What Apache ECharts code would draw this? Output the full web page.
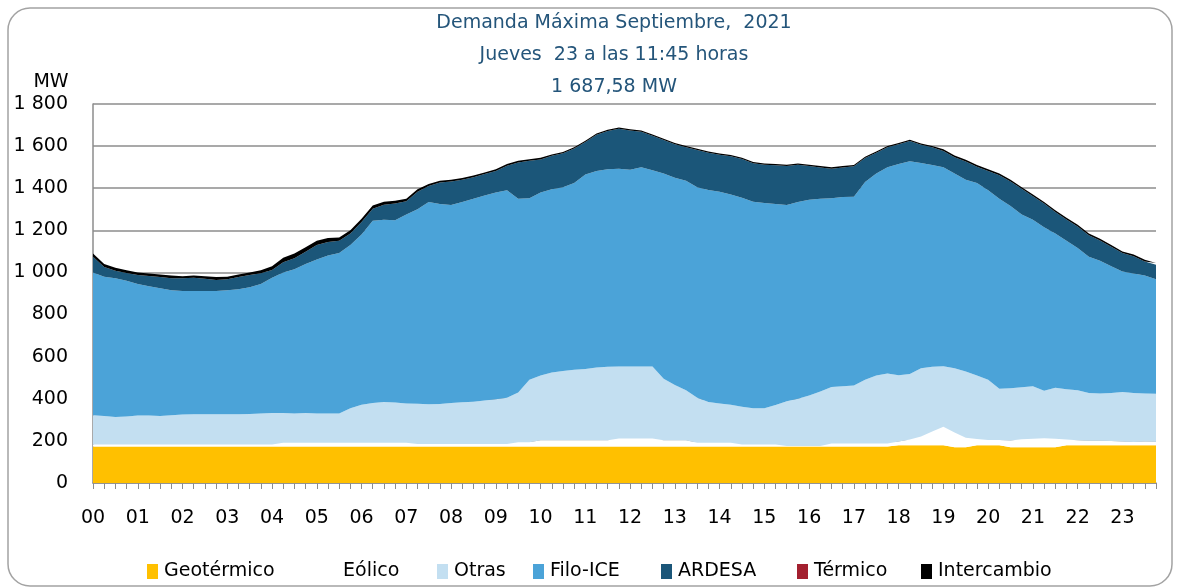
<!DOCTYPE html>
<html>
<head>
<meta charset="utf-8">
<script src="https://cdn.jsdelivr.net/npm/echarts@6/dist/echarts.min.js"></script>
<style>
  html, body { margin: 0; padding: 0; background: #fff; }
  #chart { width: 1179px; height: 588px; }
</style>
</head>
<body>
<div id="chart"></div>
<script>
// horas del eje (cada hora tiene 4 cuartos)
const hours = ['00','01','02','03','04','05','06','07','08','09','10','11','12','13','14','15','16','17','18','19','20','21','22','23'];
const quarters = ['00','15','30','45'];

// MW por cada 15 minutos
const geotermico = [
  173,173,173,173,173,173,173,173,173,173,173,173,173,173,173,173,173,173,173,173,173,173,173,173,
  173,173,173,173,173,173,173,173,173,173,173,173,173,173,173,173,173,173,173,173,173,173,173,173,
  173,173,173,173,173,173,173,173,173,173,173,173,173,173,173,173,173,173,173,173,173,173,173,173,
  179,179,179,179,179,170,170,179,179,179,170,170,170,170,170,179,179,179,179,179,179,179,179,179
];
const eolico = [
  10,10,10,10,10,10,10,10,10,10,10,10,10,10,10,10,10,18,18,18,18,18,18,18,
  18,18,18,18,18,12,12,12,12,12,12,12,12,12,20,20,30,30,30,30,30,30,30,38,
  38,38,38,30,30,30,18,18,18,18,10,10,10,10,3,3,3,3,15,15,15,15,15,15,
  18,28,42,65,88,70,45,30,25,25,32,38,40,42,40,28,24,22,22,20,18,16,18,17
];
const otras = [
  139,135,131,133,137,137,135,139,142,144,144,144,144,144,145,147,150,141,139,142,139,139,139,164,
  181,189,194,191,187,191,189,190,195,198,201,207,213,220,237,297,307,322,329,335,339,345,349,342,
  342,342,342,292,262,237,214,194,187,181,179,172,172,187,212,224,239,259,268,272,275,302,322,332,
  315,311,324,308,288,305,315,301,286,244,248,247,250,226,242,238,237,227,224,229,235,233,228,228
];
const filoIce = [
  678,662,658,644,625,615,607,593,587,585,585,585,588,593,602,615,642,668,685,707,732,750,762,775,
  808,865,865,866,897,924,961,950,940,952,964,973,982,985,920,862,870,870,873,887,923,934,938,940,
  935,947,932,975,985,995,1000,1007,1005,998,993,981,975,955,932,935,930,915,896,898,897,940,960,980,
  1003,1010,975,958,945,925,910,915,900,902,865,820,790,777,733,705,676,647,630,602,573,567,560,544
];
const ardesa = [
  75,46,36,37,43,48,53,58,60,63,58,52,53,58,58,51,37,48,53,58,68,65,58,55,
  60,58,72,80,63,83,75,102,112,105,102,102,102,117,172,178,157,159,161,164,154,172,182,189,
  186,168,164,159,159,159,177,177,176,182,184,183,182,184,186,176,161,149,140,141,144,114,99,94,
  94,96,86,84,77,77,87,77,92,112,117,122,112,112,102,102,102,102,97,92,87,82,67,69
];
const termico = [
  0,0,0,0,0,0,0,0,0,0,0,0,0,0,0,0,0,0,0,0,0,0,0,0,
  0,0,0,0,0,0,0,0,0,0,0,0,0,0,0,0,0,0,0,0,0,0,0,0,
  0,0,0,0,0,0,0,0,0,0,0,0,0,0,0,0,0,0,0,0,0,0,0,0,
  0,0,0,0,0,0,0,0,0,0,0,0,0,0,0,0,0,0,0,0,0,0,0,0
];
const intercambio = [
  15,14,14,13,12,12,12,12,10,10,12,14,12,12,12,14,18,22,22,22,20,18,16,15,
  15,15,14,12,12,12,10,8,8,8,8,8,8,8,8,8,8,6,6,6,6,6,6,6,
  6,6,6,6,6,6,6,6,6,6,6,6,6,6,6,6,6,6,8,6,6,6,6,6,
  6,6,6,6,8,8,8,8,8,8,8,8,8,8,8,8,8,8,8,8,8,8,8,8
];

const yTicks = [0, 200, 400, 600, 800, 1000, 1200, 1400, 1600, 1800];

const categories = [];
hours.forEach(h => quarters.forEach(q => categories.push(h + ':' + q)));

const seriesDef = [
  { name: 'Geotérmico', color: '#ffc000', data: geotermico, legendX: 147 },
  { name: 'Eólico', color: '#ffffff', data: eolico, legendX: 326 },
  { name: 'Otras', color: '#c3dff1', data: otras, legendX: 437 },
  { name: 'Filo-ICE', color: '#4ba3d8', data: filoIce, legendX: 533 },
  { name: 'ARDESA', color: '#1b5679', data: ardesa, legendX: 661 },
  { name: 'Térmico', color: '#a3202f', data: termico, legendX: 797 },
  { name: 'Intercambio', color: '#000000', data: intercambio, legendX: 921 }
];

const axisGray = '#8c8c8c';
const numFont = 'DejaVu Sans';

function fmtMW(v) {
  if (v >= 1000) {
    let rest = String(v % 1000);
    while (rest.length < 3) rest = '0' + rest;
    return Math.floor(v / 1000) + ' ' + rest;
  }
  return String(v);
}

const chart = echarts.init(document.getElementById('chart'));
chart.setOption({
  animation: false,
  backgroundColor: '#ffffff',
  graphic: [
    {
      type: 'rect', silent: true, z: -10,
      shape: { x: 8, y: 8, width: 1164, height: 578, r: 22 },
      style: { fill: null, stroke: '#a3a3a3', lineWidth: 1.5 }
    },
    {
      type: 'text', x: 614, y: 23,
      style: { text: 'Demanda Máxima Septiembre,  2021', fill: '#24557a', font: '19px "DejaVu Sans"', textAlign: 'center', textVerticalAlign: 'middle' }
    },
    {
      type: 'text', x: 614, y: 55,
      style: { text: 'Jueves  23 a las 11:45 horas', fill: '#24557a', font: '19px "DejaVu Sans"', textAlign: 'center', textVerticalAlign: 'middle' }
    },
    {
      type: 'text', x: 614, y: 87,
      style: { text: '1 687,58 MW', fill: '#24557a', font: '19px "DejaVu Sans"', textAlign: 'center', textVerticalAlign: 'middle' }
    },
    {
      type: 'text', x: 51, y: 82,
      style: { text: 'MW', fill: '#000', font: '19px "DejaVu Sans"', textAlign: 'center', textVerticalAlign: 'middle' }
    }
  ],
  legend: seriesDef.map(s => ({
    data: [s.name],
    left: s.legendX,
    top: 562,
    padding: 0,
    icon: 'rect',
    itemWidth: 11,
    itemHeight: 15,
    itemGap: 0,
    selectedMode: false,
    textStyle: { color: '#000', fontSize: 19, fontFamily: numFont, padding: [0, 0, 0, 1] }
  })),
  grid: { left: 93, right: 23, top: 104, bottom: 105 },
  xAxis: {
    type: 'category',
    boundaryGap: false,
    data: categories,
    axisLine: { show: true, lineStyle: { color: axisGray, width: 1.5 } },
    axisTick: { show: true, interval: 0, length: 6, lineStyle: { color: axisGray } },
    axisLabel: {
      interval: 3,
      margin: 26,
      color: '#000',
      fontSize: 19,
      fontFamily: numFont,
      formatter: v => v.slice(0, 2)
    },
    splitLine: { show: false }
  },
  yAxis: {
    type: 'value',
    min: yTicks[0],
    max: yTicks[yTicks.length - 1],
    interval: 200,
    axisLine: { show: true, lineStyle: { color: axisGray, width: 1.5 } },
    axisTick: { show: false },
    axisLabel: { color: '#000', fontSize: 19, fontFamily: numFont, margin: 25, formatter: fmtMW },
    splitLine: { lineStyle: { color: axisGray, width: 1.5 } }
  },
  series: seriesDef.map(s => ({
    name: s.name,
    type: 'line',
    stack: 'total',
    data: s.data,
    symbol: 'none',
    showSymbol: false,
    lineStyle: { width: 0 },
    itemStyle: { color: s.color },
    areaStyle: { color: s.color, opacity: 1 },
    emphasis: { disabled: true }
  }))
});
</script>
</body>
</html>
